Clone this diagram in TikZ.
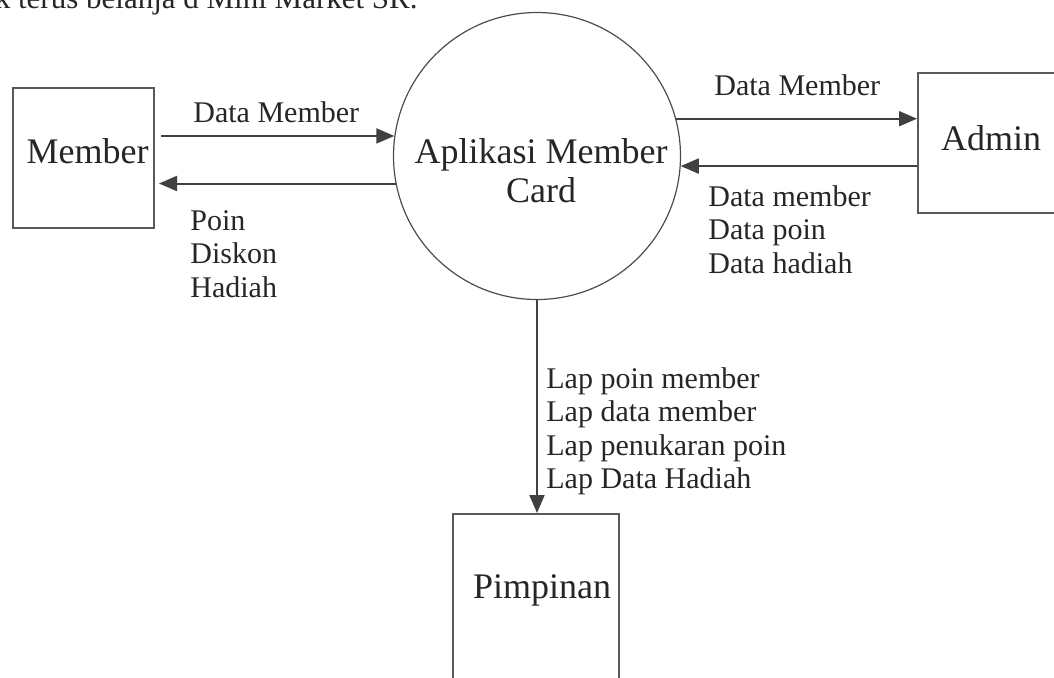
\documentclass[tikz,border=0pt]{standalone}
\usepackage{fontspec}
\setmainfont{Liberation Serif}
\usetikzlibrary{positioning,arrows.meta,calc}

\begin{document}
\begin{tikzpicture}[x=0.5pt,y=-0.5pt,
    entity/.style={draw=black!65,line width=1pt,minimum width=#1,minimum height=70pt,inner sep=0pt},
    process/.style={draw=black!70,line width=0.6pt,circle,minimum size=143.5pt,inner sep=0pt},
    bigtext/.style={font=\fontsize{18}{19.5}\selectfont,text=black!85,inner sep=0pt},
    flowtext/.style={font=\fontsize{15}{16.75}\selectfont,text=black!85,align=left,inner sep=0pt},
    flow/.style={draw=black!75,line width=1pt,-{Triangle[length=9pt,width=7.5pt]}}]
    % Draw page area
    \useasboundingbox (0,0) rectangle (1054,677);
    \clip (0,0) rectangle (1054,677);

    % Draw text above the diagram
    \node[bigtext,font=\fontsize{15.5}{17}\selectfont,anchor=base east] (pagetext) at (418,8) {k terus belanja d Mini Market SR.};

    % Draw process
    \node[process] (app) at (537,156) {};
    \node[bigtext,align=center,anchor=north] (apptext) at (541,138) {Aplikasi Member\\Card};

    % Draw entities
    \node[entity=70.5pt] (member) at (83.5,158) {};
    \node[bigtext,anchor=base] (membertext) at (87.5,163) {Member};
    \node[entity=80pt] (admin) at (998,143) {};
    \node[bigtext,anchor=base] (admintext) at (991,150) {Admin};
    \node[entity=83pt,minimum height=90pt] (pimpinan) at (536,604) {};
    \node[bigtext,anchor=base] (pimpinantext) at (542,598) {Pimpinan};

    % Draw flows between member and process
    \draw[flow,shorten <=3pt] (app.172.8 -| member.east) -- (app.172.8);
    \draw[flow,shorten >=2pt] (app.191.25) -- (app.191.25 -| member.east);
    \node[flowtext,anchor=base west] (f1) at (193,122) {Data Member};
    \node[flowtext,anchor=north west] (f2) at (190,210) {Poin\\Diskon\\Hadiah};

    % Draw flows between process and admin
    \draw[flow] (app.15.8) -- (app.15.8 -| admin.west);
    \draw[flow] (app.-4.4 -| admin.west) -- (app.-4.4);
    \node[flowtext,anchor=base west] (f3) at (714,95) {Data Member};
    \node[flowtext,anchor=north west] (f4) at (708,185) {Data member\\Data poin\\Data hadiah};

    % Draw flow to pimpinan
    \draw[flow] (app.south) -- (app.south |- pimpinan.north);
    \node[flowtext,anchor=north west] (f5) at (546,367) {Lap poin member\\Lap data member\\Lap penukaran poin\\Lap Data Hadiah};
\end{tikzpicture}
\end{document}
